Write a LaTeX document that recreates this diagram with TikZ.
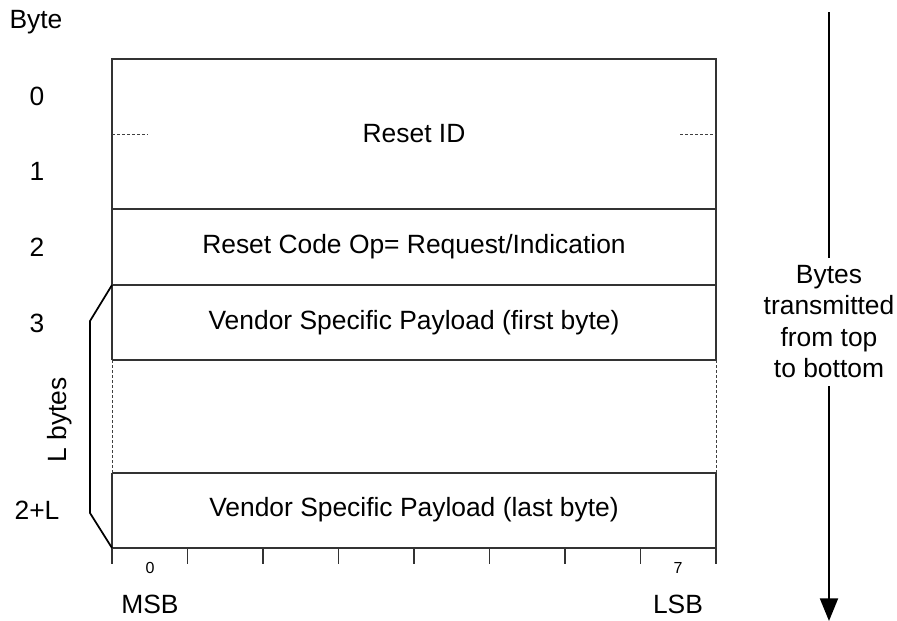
\documentclass[tikz,border=0pt]{standalone}
\usepackage{fontspec}
\setmainfont{Liberation Sans}
\usetikzlibrary{arrows.meta}
\begin{document}
\begin{tikzpicture}[x=0.75pt,y=-0.75pt,
  lbl/.style={font=\fontsize{19.8}{22}\selectfont, inner sep=0pt},
  small/.style={font=\fontsize{12}{14}\selectfont, inner sep=0pt},
  frame/.style={line width=0.8pt, draw=black!80},
  dashln/.style={line width=0.7pt, draw=black!75, dash pattern=on 2.25pt off 1.5pt}]
\useasboundingbox (0,0) rectangle (897,621);
% frame
\draw[frame] (112,360) -- (112,59) -- (716,59) -- (716,360);
\draw[frame] (112,473) -- (112,548) -- (716,548) -- (716,473);
\draw[frame] (112,209) -- (716,209);
\draw[frame] (112,285) -- (716,285);
\draw[frame] (112,360) -- (716,360);
\draw[frame] (112,473) -- (716,473);
\draw[dashln] (112,360) -- (112,473);
\draw[dashln] (716,360) -- (716,473);
\draw[dashln] (112,134) -- (148,134);
\draw[dashln] (680,134) -- (716,134);
% ticks
\foreach \i in {0,...,8} \draw[frame] ({112+75.5*\i},548) -- ({112+75.5*\i},564);
% row texts
\node[lbl] (r0) at (414,134) {Reset ID};
\node[lbl] (r2) at (414,247) {Reset Code Op= Request/Indication};
\node[lbl] (r3) at (414,323) {Vendor Specific Payload (first byte)};
\node[lbl] (rl) at (414,510) {Vendor Specific Payload (last byte)};
% byte labels
\node[lbl] (bt) at (36,22) {Byte};
\node[lbl] (b0) at (37,96) {0};
\node[lbl] (b1) at (37,171) {1};
\node[lbl] (b2) at (37,247) {2};
\node[lbl] (b3) at (37,323) {3};
\node[lbl] (bl) at (37,510) {2+L};
\node[lbl, rotate=90] (lb) at (60,420) {L bytes};
% brace
\draw[line width=1.3pt] (112,285) -- (90,321) -- (90,513) -- (112,548);
% bit labels
\node[small] (z) at (150,568) {0};
\node[small] (s) at (678,568) {7};
\node[lbl] (msb) at (150,604) {MSB};
\node[lbl] (lsb) at (678,604) {LSB};
% arrow
\node[lbl, align=center, anchor=north, font=\fontsize{19.8}{23.6}\selectfont] (tx) at (829,265) {Bytes\\transmitted\\from top\\to bottom};
\coordinate (at) at (829,12);
\coordinate (ab) at (829,621);
\draw[line width=1.5pt] (at) -- ([yshift=5.25pt]tx.north);
\draw[line width=1.5pt, -{Triangle[length=17pt,width=13.5pt]}] ([yshift=-6pt]tx.south) -- (ab);
\end{tikzpicture}
\end{document}
